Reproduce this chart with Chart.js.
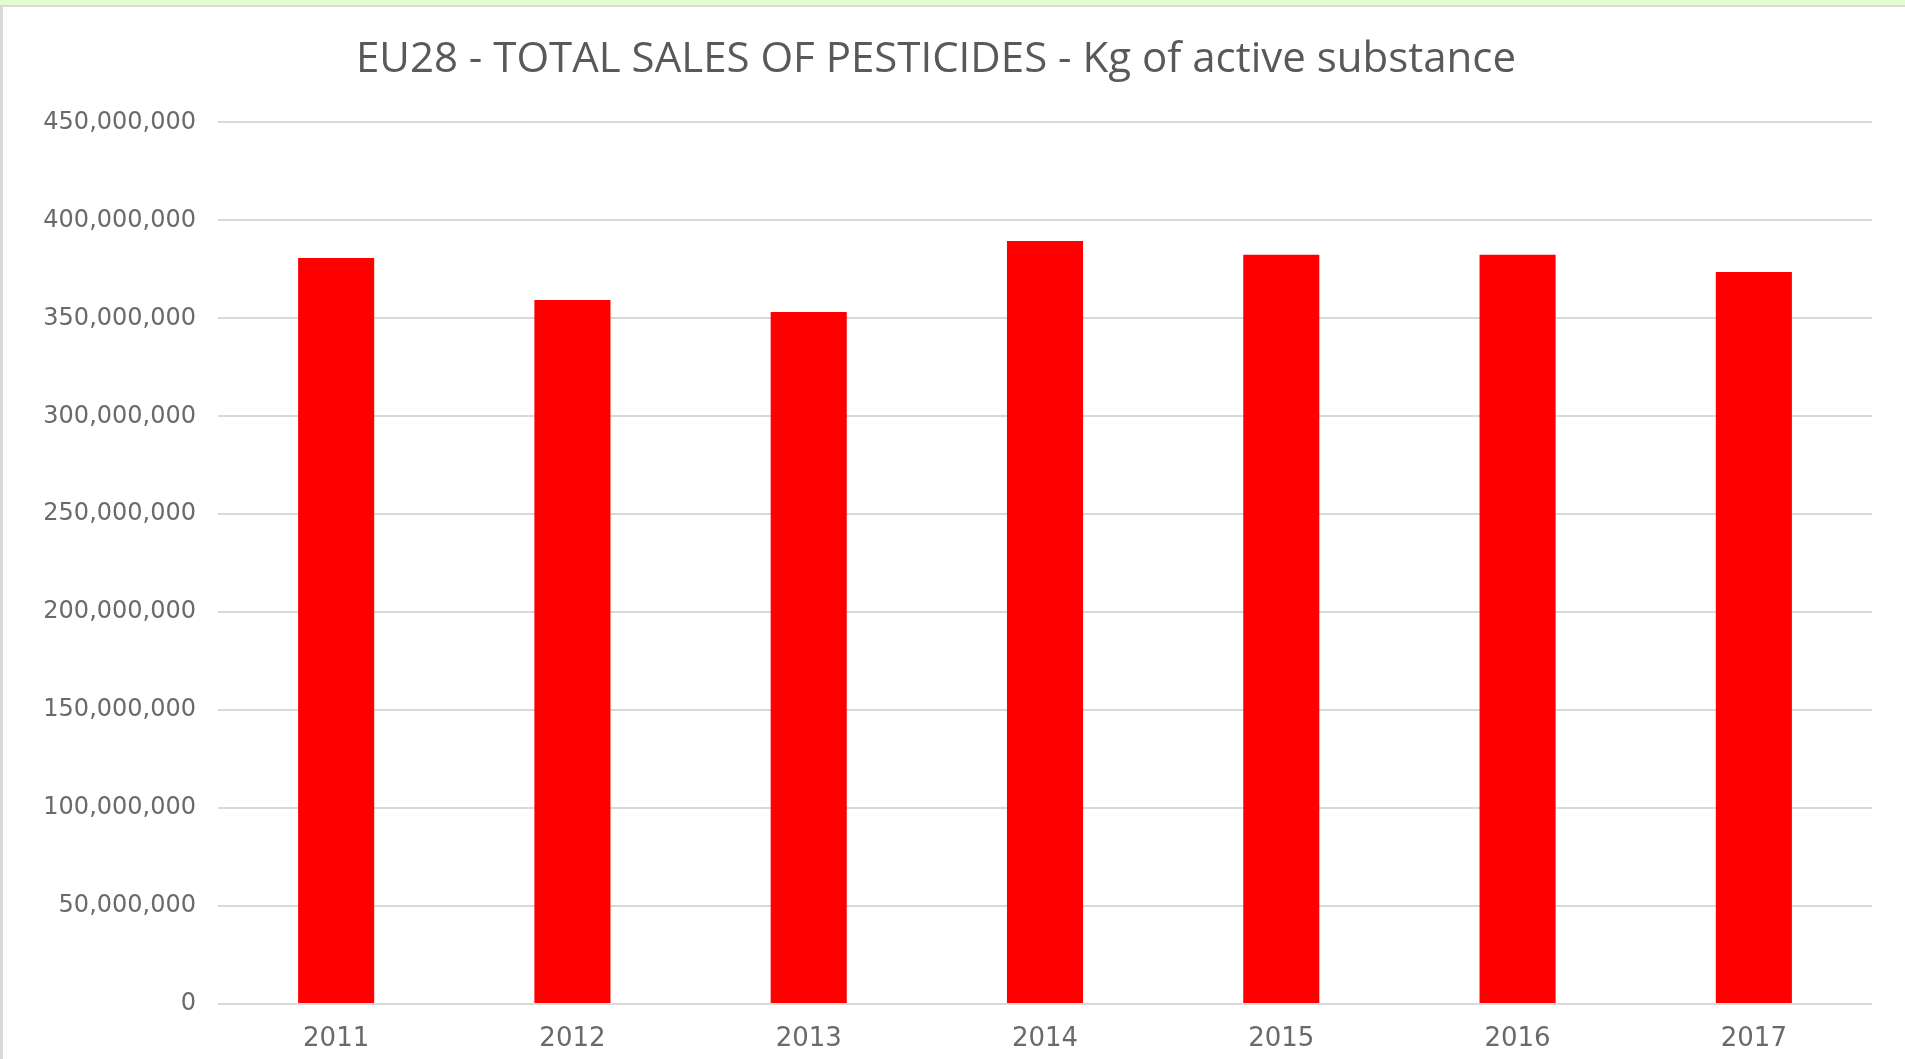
<!DOCTYPE html>
<html>
<head>
<meta charset="utf-8">
<script src="https://cdn.jsdelivr.net/npm/chart.js@4.4.1/dist/chart.umd.min.js"></script>
<style>
  html, body { margin: 0; padding: 0; background: #ffffff; overflow: hidden; }
  #wrap { position: relative; width: 1905px; height: 1059px; }
  #topband { position: absolute; left: 0; top: 0; width: 1905px; height: 5px; background: #e2fdcf; }
  #topline { position: absolute; left: 0; top: 5px; width: 1905px; height: 2px; background: #d9d9d9; }
  #leftline { position: absolute; left: 0; top: 5px; width: 3px; height: 1054px; background: #d9d9d9; }
  canvas { position: absolute; left: 0; top: 0; }
</style>
</head>
<body>
<div id="wrap">
  <div id="topband"></div>
  <div id="topline"></div>
  <div id="leftline"></div>
  <canvas id="c" width="1905" height="1059"></canvas>
</div>
<script>
const chartTitle = "EU28 - TOTAL SALES OF PESTICIDES - Kg of active substance";
const years = ["2011", "2012", "2013", "2014", "2015", "2016", "2017"];
const salesKg = [380800000, 359400000, 353200000, 389500000, 382400000, 382400000, 373700000];
const yMin = 0;
const yMax = 450000000;
const yStep = 50000000;

new Chart(document.getElementById('c'), {
  type: 'bar',
  data: {
    labels: years,
    datasets: [{
      label: 'Sales',
      data: salesKg,
      backgroundColor: '#ff0000',
      borderWidth: 0,
      categoryPercentage: 1.0,
      barPercentage: 0.322
    }]
  },
  options: {
    responsive: false,
    animation: false,
    devicePixelRatio: 1,
    layout: { padding: { left: 0, right: 33, top: 0, bottom: 7 } },
    plugins: {
      legend: { display: false },
      tooltip: { enabled: false },
      title: {
        display: true,
        text: chartTitle,
        color: '#595959',
        font: { family: "'Open Sans', sans-serif", size: 42, weight: 'normal', lineHeight: 1.2 },
        padding: { top: 35, bottom: 37 }
      }
    },
    scales: {
      x: {
        afterFit: (s) => { s.height = 48; },
        grid: { display: false, drawTicks: false },
        border: { display: false },
        ticks: {
          color: '#6a6a6a',
          font: { family: "'DejaVu Sans', sans-serif", size: 26 },
          padding: 20,
          maxRotation: 0
        }
      },
      y: {
        min: yMin,
        max: yMax,
        afterFit: (s) => { s.width = 218; },
        grid: { color: '#d9d9d9', lineWidth: 2, drawTicks: false },
        border: { display: false },
        ticks: {
          stepSize: yStep,
          color: '#6a6a6a',
          font: { family: "'DejaVu Sans', sans-serif", size: 24 },
          padding: 22,
          callback: (v) => Number(v).toLocaleString('en-US')
        }
      }
    }
  }
});
</script>
</body>
</html>
